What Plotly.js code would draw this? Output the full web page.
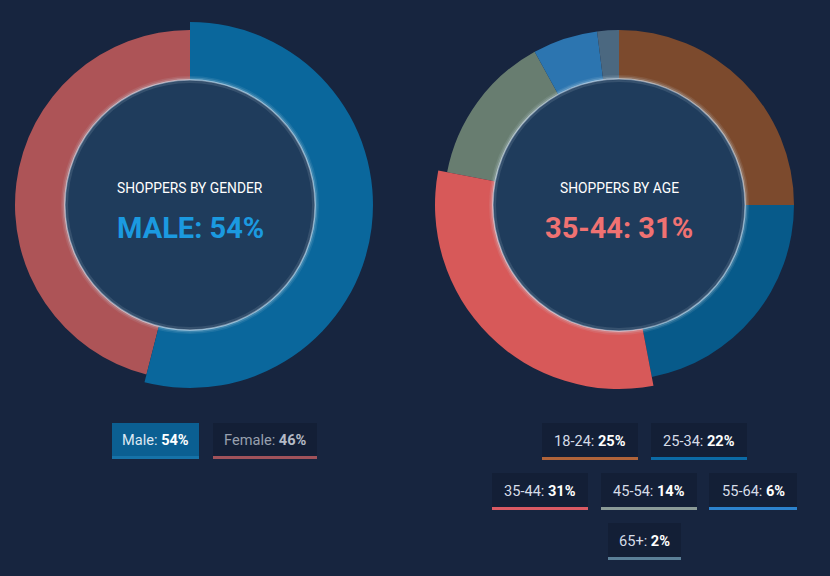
<!DOCTYPE html>
<html>
<head>
<meta charset="utf-8">
<script src="https://cdn.plot.ly/plotly-3.0.1.min.js"></script>
<style>
  html, body { margin: 0; padding: 0; background: #17253f; }
  #plot { width: 830px; height: 576px; }
</style>
</head>
<body>
<div id="plot"></div>
<script>
// data
const genderLabels = ['Male', 'Female'];
const genderValues = [54, 46];
const genderColors = ['#0a679c', '#ad5457'];

const ageLabels = ['18-24', '25-34', '35-44', '45-54', '55-64', '65+'];
const ageValues = [25, 22, 31, 14, 6, 2];
const ageColors = ['#7c4a2d', '#075a8a', '#d75959', '#687d70', '#2c75b0', '#4b6880'];

const W = 830, H = 576;
const px = x => x / W, py = y => 1 - y / H;
const BG = '#17253f';

// one donut = two pie traces: the highlighted slice drawn bigger
function donut(values, labels, colors, hi, cx, cy, rBig, rSmall) {
  const mk = (r, keep) => ({
    type: 'pie', values: values, labels: labels, sort: false,
    direction: 'clockwise', rotation: 0, hole: 0.5,
    textinfo: 'none', hoverinfo: 'skip', showlegend: false,
    marker: { colors: colors.map((c, i) => keep(i) ? c : 'rgba(0,0,0,0)'), line: { width: 0 } },
    domain: { x: [px(cx - r), px(cx + r)], y: [py(cy + r), py(cy - r)] }
  });
  return [mk(rSmall, i => i !== hi), mk(rBig, i => i === hi)];
}

const traces = [
  ...donut(genderValues, genderLabels, genderColors, 0, 190, 205, 183, 175),
  ...donut(ageValues, ageLabels, ageColors, 2, 619, 205, 184, 175)
];

const shapes = [], annotations = [];

function circle(cx, cy, r, fill, line) {
  shapes.push({ type: 'circle', xref: 'paper', yref: 'paper', layer: 'above',
    x0: px(cx - r), x1: px(cx + r), y0: py(cy + r), y1: py(cy - r),
    fillcolor: fill, line: line || { width: 0 } });
}
function hole(cx, cy, r) {
  circle(cx, cy, r + 4, 'rgba(210,225,240,0.10)');
  circle(cx, cy, r + 2.5, 'rgba(210,225,240,0.18)');
  circle(cx, cy, r + 1, 'rgba(210,225,240,0.30)');
  circle(cx, cy, r, '#1f3c5c', { color: 'rgba(225,238,250,0.45)', width: 1.5 });
  circle(cx, cy, r - 2, 'rgba(0,0,0,0)', { color: 'rgba(225,238,250,0.12)', width: 2 });
}
hole(190, 205, 125);
hole(619, 205, 126);

function note(x, y, text, font) {
  annotations.push({ xref: 'paper', yref: 'paper', x: px(x), y: py(y),
    xanchor: 'center', yanchor: 'middle', showarrow: false, text: text, font: font });
}

function centerText(cx, title, big, color) {
  note(cx, 188, title, { family: 'Roboto', size: 13.8, color: '#ffffff' });
  note(cx, 228, '<b>' + big + '</b>', { family: 'Roboto', size: 29, color: color });
}
centerText(190, 'SHOPPERS BY GENDER', 'MALE: ' + genderValues[0] + '%', '#1b9ae0');
centerText(619, 'SHOPPERS BY AGE', ageLabels[2] + ': ' + ageValues[2] + '%', '#f07272');

// legend buttons
function chip(x0, x1, y0, y1, label, value, color, active, textColor, valColor) {
  shapes.push({ type: 'rect', xref: 'paper', yref: 'paper', layer: 'above',
    x0: px(x0), x1: px(x1), y0: py(y1), y1: py(y0),
    fillcolor: active ? '#0b5f92' : '#131f36', line: { width: 0 } });
  shapes.push({ type: 'rect', xref: 'paper', yref: 'paper', layer: 'above',
    x0: px(x0), x1: px(x1), y0: py(y1), y1: py(y1 - 3),
    fillcolor: active ? '#1672a8' : color, line: { width: 0 } });
  note((x0 + x1) / 2, (y0 + y1) / 2 - 1,
    label + ': <span style="color:' + valColor + '"><b>' + value + '%</b></span>',
    { family: 'Roboto', size: 14.6, color: textColor });
}
chip(112, 199, 423, 459, genderLabels[0], genderValues[0], genderColors[0], true, '#dde8f2', '#ffffff');
chip(213, 317, 423, 459, genderLabels[1], genderValues[1], '#a0525a', false, '#98a0ae', '#b4bac6');

const agePos = [
  [542, 638, 423, 460], [651, 747, 423, 460],
  [492, 588, 473, 510], [601, 697, 473, 510], [709, 797, 473, 510],
  [608, 681, 523, 560]
];
const ageLine = ['#b0643a', '#0b6aa5', '#d95a63', '#8a9a96', '#2c82cc', '#5b8098'];
ageLabels.forEach((l, i) => {
  const p = agePos[i];
  chip(p[0], p[1], p[2], p[3], l, ageValues[i], ageLine[i], false, '#d6dde8', '#ffffff');
});

Plotly.newPlot('plot', traces, {
  width: W, height: H,
  margin: { t: 0, l: 0, r: 0, b: 0 },
  paper_bgcolor: BG, plot_bgcolor: BG,
  shapes: shapes, annotations: annotations,
  showlegend: false
}, { displayModeBar: false, staticPlot: true });
</script>
</body>
</html>
